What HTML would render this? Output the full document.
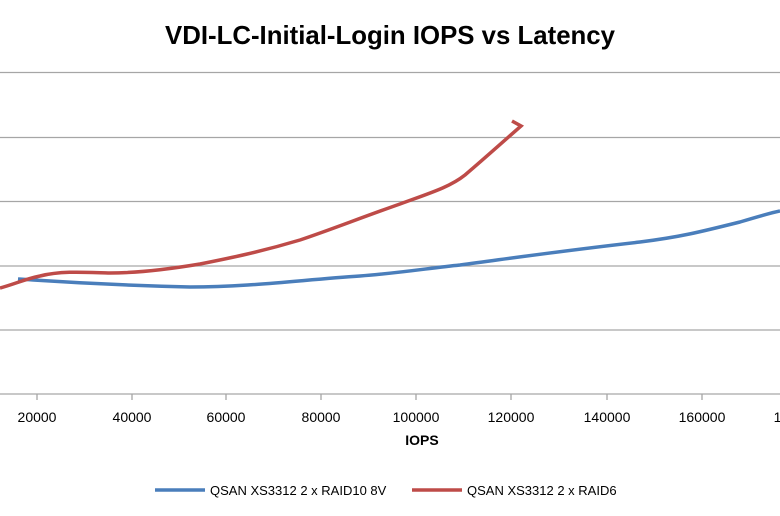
<!DOCTYPE html>
<html><head><style>body{margin:0;background:#fff}svg{display:block}</style></head><body>
<svg width="780" height="516" xmlns="http://www.w3.org/2000/svg" font-family="Liberation Sans, sans-serif">
<rect width="780" height="516" fill="#fff"/>
<text x="390" y="44" text-anchor="middle" font-size="26" font-weight="bold" fill="#000" textLength="450" lengthAdjust="spacingAndGlyphs">VDI-LC-Initial-Login IOPS vs Latency</text>
<g stroke="#a6a6a6" stroke-width="1.3">
<line x1="0" y1="72.5" x2="780" y2="72.5"/>
<line x1="0" y1="137.5" x2="780" y2="137.5"/>
<line x1="0" y1="201.5" x2="780" y2="201.5"/>
<line x1="0" y1="266" x2="780" y2="266"/>
<line x1="0" y1="330" x2="780" y2="330"/>
<line x1="0" y1="394" x2="780" y2="394"/>
<line x1="37" y1="394" x2="37" y2="400"/><line x1="132" y1="394" x2="132" y2="400"/><line x1="226" y1="394" x2="226" y2="400"/><line x1="321" y1="394" x2="321" y2="400"/><line x1="416" y1="394" x2="416" y2="400"/><line x1="511" y1="394" x2="511" y2="400"/><line x1="607" y1="394" x2="607" y2="400"/><line x1="702" y1="394" x2="702" y2="400"/>
</g>
<g font-size="14" fill="#000" text-anchor="middle">
<text x="37" y="422">20000</text><text x="132" y="422">40000</text><text x="226" y="422">60000</text><text x="321" y="422">80000</text><text x="416" y="422">100000</text><text x="511" y="422">120000</text><text x="607" y="422">140000</text><text x="702" y="422">160000</text><text x="797" y="422">180000</text>
</g>
<text x="422" y="445" text-anchor="middle" font-size="14" font-weight="bold">IOPS</text>
<path d="M18,279 C50,281 100,285 190,287 C250,287 300,280 360,276 C400,273 430,268 460,265 C520,257 560,251 640,242 C680,237 700,232 740,222 C760,216 770,213 780,211" fill="none" stroke="#4a7ebb" stroke-width="3.5"/>
<path d="M0,288 C15,284 25,279 40,276 C60,271 80,272 110,273 C140,273 170,269 200,264 C230,258 260,252 300,240 C330,230 360,218 400,204 C430,193 450,187 465,175 C485,158 505,140 521,126 L512,121" fill="none" stroke="#be4b48" stroke-width="3.5"/>
<line x1="155" y1="490" x2="205" y2="490" stroke="#4a7ebb" stroke-width="3.5"/>
<text x="210" y="495" font-size="13">QSAN XS3312 2 x RAID10 8V</text>
<line x1="412" y1="490" x2="462" y2="490" stroke="#be4b48" stroke-width="3.5"/>
<text x="467" y="495" font-size="13">QSAN XS3312 2 x RAID6</text>
</svg>
</body></html>
